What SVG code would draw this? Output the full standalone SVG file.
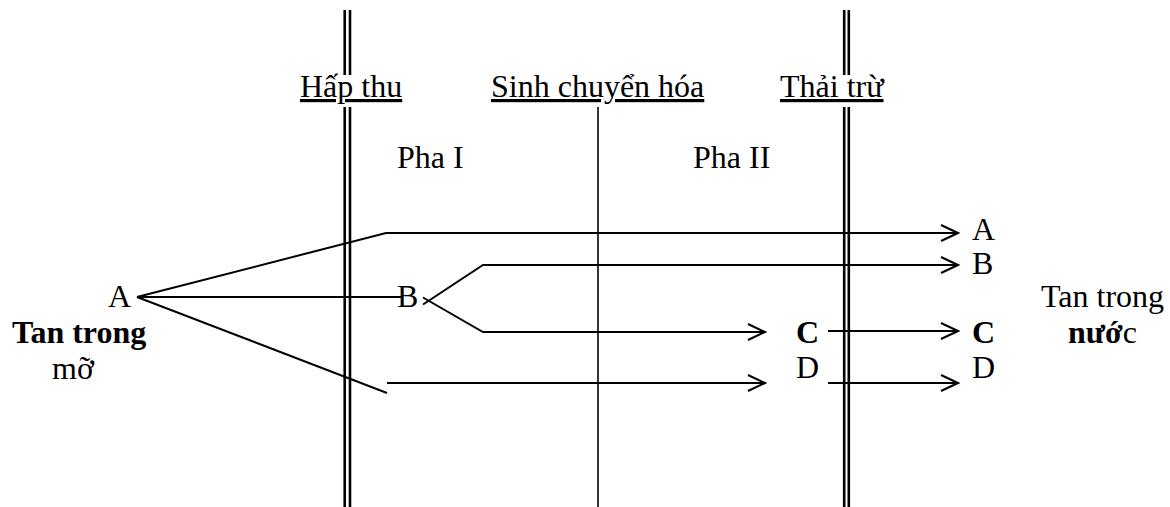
<svg xmlns="http://www.w3.org/2000/svg" width="1170" height="507" viewBox="0 0 1170 507">
<defs>
<style>
text{font-family:"Liberation Serif","Times New Roman",serif;font-size:32px;fill:#000}
.b{font-weight:bold}
.u{text-decoration:underline}
.ln{stroke:#000;stroke-width:2;fill:none}
.v{stroke:#000;stroke-width:2.6;fill:none}
</style>
<marker id="arr" viewBox="0 0 20 20" refX="18" refY="10" markerWidth="20" markerHeight="20" markerUnits="userSpaceOnUse" orient="auto"><path d="M1,2 L18,10 L1,18" fill="none" stroke="#000" stroke-width="2"/></marker>
</defs>
<rect width="1170" height="507" fill="#fff"/>
<g id="phases">
<g id="hap-thu">
<line class="v" x1="344.7" y1="10" x2="344.7" y2="75"/><line class="v" x1="350" y1="10" x2="350" y2="75"/>
<line class="v" x1="344.7" y1="107" x2="344.7" y2="507"/><line class="v" x1="350" y1="107" x2="350" y2="507"/>
<text class="u" x="300" y="97">Hấp thu</text>
</g>
<g id="sinh-chuyen-hoa">
<line x1="598" y1="107" x2="598" y2="507" stroke="#000" stroke-width="1.6"/>
<text class="u" x="491" y="97">Sinh chuyển hóa</text>
</g>
<g id="thai-tru">
<line class="v" x1="844.2" y1="10" x2="844.2" y2="75"/><line class="v" x1="848.8" y1="10" x2="848.8" y2="75"/>
<line class="v" x1="844.2" y1="107" x2="844.2" y2="507"/><line class="v" x1="848.8" y1="107" x2="848.8" y2="507"/>
<text class="u" x="780" y="97">Thải trừ</text>
</g>
<text id="pha1" x="397" y="168">Pha I</text>
<text id="pha2" x="693" y="168">Pha II</text>
</g>
<g id="connectors">
<polyline class="ln" points="137,297 386,233 958,233" marker-end="url(#arr)"/>
<line class="ln" x1="137" y1="297" x2="401" y2="297"/>
<line class="ln" x1="137" y1="297" x2="387" y2="393"/>
<polyline class="ln" points="423,304.5 483,265 958,265" marker-end="url(#arr)"/>
<polyline class="ln" points="423,297.5 483,332 765,332" marker-end="url(#arr)"/>
<line class="ln" x1="387" y1="383" x2="765" y2="383" marker-end="url(#arr)"/>
<line class="ln" x1="828" y1="331" x2="958" y2="331" marker-end="url(#arr)"/>
<line class="ln" x1="828" y1="383" x2="958" y2="383" marker-end="url(#arr)"/>
</g>
<g id="node-A-left">
<text x="108" y="307">A</text>
<text class="b" x="12" y="343">Tan trong</text>
<text x="52" y="379">mỡ</text>
</g>
<g id="node-B"><text x="397" y="307">B</text></g>
<g id="node-C-mid"><text class="b" x="796" y="343">C</text></g>
<g id="node-D-mid"><text x="796" y="378">D</text></g>
<g id="node-A-right"><text x="972" y="240">A</text></g>
<g id="node-B-right"><text x="972" y="274">B</text></g>
<g id="node-C-right"><text class="b" x="972" y="343">C</text></g>
<g id="node-D-right"><text x="972" y="378">D</text></g>
<g id="water">
<text x="1041" y="307">Tan trong</text>
<text x="1068" y="343"><tspan class="b">nướ</tspan>c</text>
</g>
</svg>
